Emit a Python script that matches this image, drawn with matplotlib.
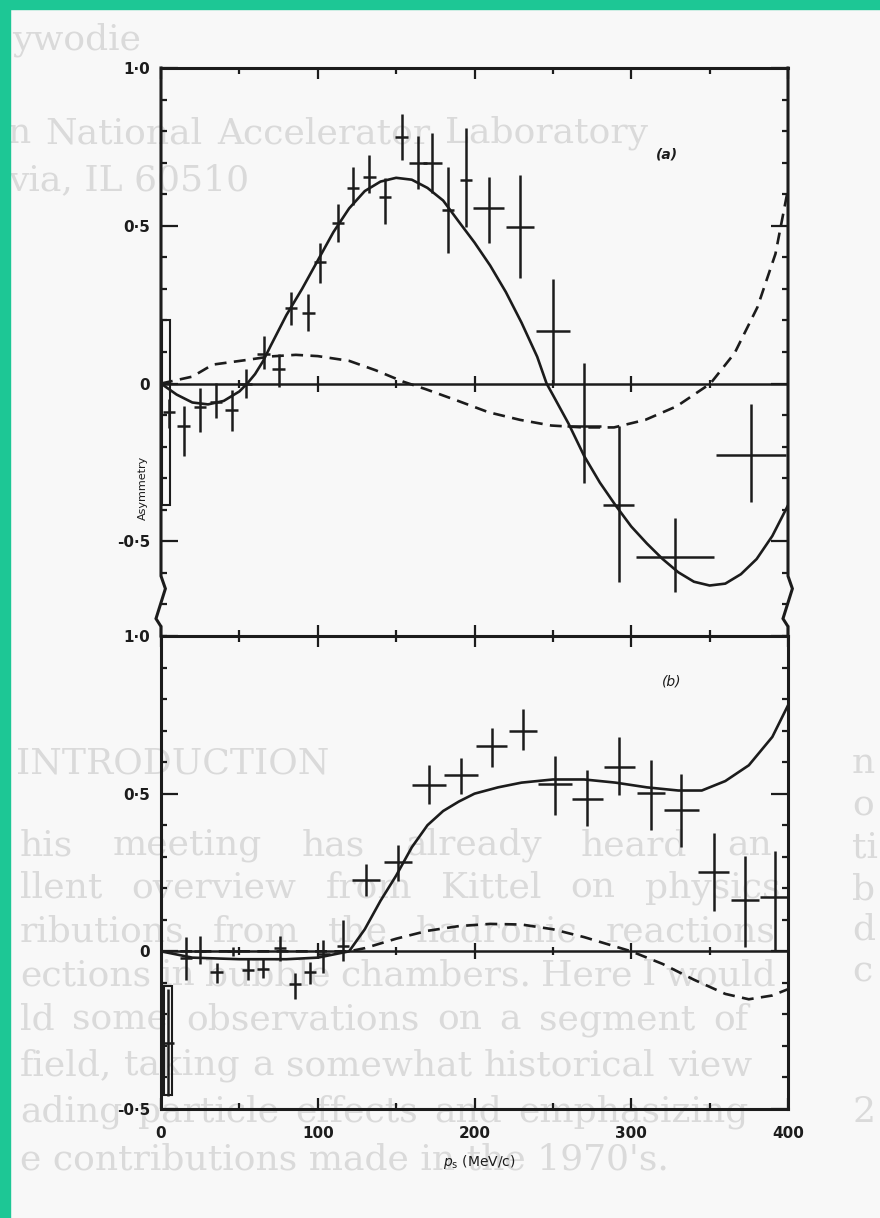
"""
Asymmetry vs p_s, two panels (a)/(b), redrawn from a scanned page.
"""
import numpy as np
import matplotlib
matplotlib.use("Agg")
import matplotlib.pyplot as plt
from matplotlib.patches import Rectangle

INK = "#1c1c1c"
PAPER = "#f8f8f8"
GHOST = "#dadada"
GREEN = "#1dc795"

# ---- panel (a) data: p_s, asymmetry, error up, error down, half width in p
a_p = [5, 14.5, 25, 35, 45, 54, 65.5, 75, 83, 94, 101.5, 113, 122.5, 133, 143,
       153.5, 164, 173, 183, 194.5, 209, 229, 250, 270, 292, 328, 376.5]
a_y = [-0.09, -0.135, -0.075, -0.058, -0.085, 0.0, 0.095, 0.045, 0.24, 0.225,
       0.385, 0.51, 0.62, 0.655, 0.59, 0.78, 0.70, 0.70, 0.55, 0.645, 0.555,
       0.495, 0.165, -0.135, -0.385, -0.55, -0.225]
a_up = [0.04, 0.065, 0.06, 0.06, 0.065, 0.045, 0.055, 0.05, 0.05, 0.06, 0.06,
        0.06, 0.065, 0.07, 0.06, 0.075, 0.085, 0.095, 0.135, 0.165, 0.10,
        0.165, 0.165, 0.20, 0.25, 0.125, 0.16]
a_dn = [0.05, 0.095, 0.08, 0.05, 0.065, 0.045, 0.05, 0.055, 0.055, 0.06, 0.065,
        0.06, 0.055, 0.05, 0.085, 0.07, 0.085, 0.095, 0.135, 0.15, 0.11,
        0.16, 0.165, 0.18, 0.245, 0.11, 0.15]
a_xw = [4, 4, 4, 4, 4, 4, 4, 4, 4, 4, 4, 4, 4, 4, 4, 4, 6, 6, 4, 4, 10, 9, 11,
        11, 10, 25, 22.5]

# panel (a) curves
a_fit_p = [0, 10, 20, 30, 40, 50, 55, 60, 65, 70, 80, 90, 100, 110, 120, 130,
           140, 150, 160, 170, 180, 190, 200, 210, 220, 230, 240, 246, 250,
           260, 270, 280, 290, 300, 310, 320, 330, 340, 350, 360, 370, 380,
           390, 400]
a_fit_y = [0.0, -0.035, -0.06, -0.066, -0.055, -0.025, 0.0, 0.03, 0.07, 0.12,
           0.217, 0.30, 0.39, 0.48, 0.555, 0.61, 0.64, 0.652, 0.646, 0.62,
           0.58, 0.513, 0.447, 0.374, 0.29, 0.193, 0.085, 0.0, -0.036, -0.127,
           -0.23, -0.314, -0.386, -0.453, -0.507, -0.556, -0.598, -0.628,
           -0.64, -0.634, -0.604, -0.556, -0.483, -0.386]
a_dash_p = [0, 20, 33, 55, 70, 86, 100, 120, 137, 154.5, 169, 189, 209, 229,
            249, 269, 289, 309, 329, 350.5, 366, 380.5, 392, 400]
a_dash_y = [0.0, 0.022, 0.06, 0.075, 0.086, 0.091, 0.087, 0.072, 0.042, 0.006,
            -0.018, -0.054, -0.091, -0.115, -0.133, -0.139, -0.139, -0.115,
            -0.072, 0.0, 0.097, 0.242, 0.411, 0.616]

# ---- panel (b) data
b_p = [4.5, 16, 25, 35.5, 46, 55.5, 65, 76, 85.5, 95, 103.5, 116, 131, 151,
       171, 191.5, 211, 231, 251.5, 272, 292.5, 312.5, 332, 352.5, 372.5, 392]
b_y = [-0.29, -0.02, 0.0, -0.066, 0.0, -0.06, -0.055, 0.01, -0.105, -0.065,
       -0.01, 0.018, 0.227, 0.284, 0.527, 0.558, 0.652, 0.70, 0.532, 0.484,
       0.586, 0.502, 0.448, 0.252, 0.163, 0.173]
b_up = [0.17, 0.065, 0.05, 0.03, 0.015, 0.035, 0.035, 0.04, 0.035, 0.03, 0.045,
        0.08, 0.05, 0.052, 0.063, 0.055, 0.057, 0.07, 0.087, 0.09, 0.095,
        0.105, 0.115, 0.123, 0.14, 0.146]
b_dn = [0.17, 0.07, 0.04, 0.035, 0.015, 0.03, 0.03, 0.04, 0.045, 0.04, 0.06,
        0.05, 0.05, 0.06, 0.06, 0.058, 0.068, 0.06, 0.10, 0.086, 0.09, 0.116,
        0.118, 0.125, 0.15, 0.173]
b_xw = [4, 4, 4, 4, 4, 4, 4, 4, 4, 4, 4, 4, 9, 9, 11, 11, 10, 9, 11, 10, 10, 9,
        11, 10, 9, 10]

b_fit_p = [0, 20, 50, 80, 100, 110, 120, 130, 140, 150, 160, 170, 180, 190,
           200, 215, 230, 250, 270, 290, 310, 330, 345, 360, 375, 390, 400]
b_fit_y = [0.0, -0.02, -0.025, -0.025, -0.02, -0.01, 0.0, 0.07, 0.16, 0.24,
           0.33, 0.40, 0.445, 0.475, 0.50, 0.52, 0.535, 0.545, 0.545, 0.535,
           0.52, 0.51, 0.51, 0.54, 0.59, 0.68, 0.78]
b_dash_p = [0, 120, 130, 150, 170, 190, 210, 230, 250, 270, 290, 300, 320, 340,
            360, 375, 390, 400]
b_dash_y = [0.0, 0.0, 0.01, 0.04, 0.065, 0.08, 0.087, 0.085, 0.07, 0.045,
            0.015, 0.0, -0.04, -0.09, -0.135, -0.152, -0.14, -0.12]

# open boxes at p_s ~ 0 (p from, p to, y from, y to)
a_box = (0.5, 5.5, -0.385, 0.20)
b_box = (2.0, 7.0, -0.455, -0.11)

x_major = [0, 100, 200, 300, 400]
x_minor = [50, 150, 250, 350]
x_labels = ["0", "100", "200", "300", "400"]
y_major = [-0.5, 0, 0.5, 1.0]
y_labels = ["-0·5", "0", "0·5", "1·0"]

# faint text showing through the scan: (x left px, x right px or None, y px, text)
ghost_lines = [
    (12, None, 40, "ywodie"),
    (8, 648, 133, "n National Accelerator Laboratory"),
    (8, None, 180, "via, IL 60510"),
    (16, None, 763, "INTRODUCTION"),
    (20, 772, 845, "his meeting has already heard an"),
    (20, 780, 888, "llent overview from Kittel on physics"),
    (20, 776, 932, "ributions from the hadronic reactions"),
    (20, 776, 975, "ections in bubble chambers. Here I would"),
    (20, 748, 1020, "ld some observations on a segment of"),
    (20, 752, 1065, "field, taking a somewhat historical view"),
    (20, 748, 1112, "ading particle effects and emphasizing"),
    (20, None, 1160, "e contributions made in the 1970's."),
    (852, None, 763, "n"), (852, None, 806, "o"), (852, None, 848, "ti"),
    (852, None, 890, "b"), (852, None, 930, "d"), (852, None, 972, "c"),
    (852, None, 1112, "2"),
]

W, H = 880, 1218
fig = plt.figure(figsize=(W / 100, H / 100), dpi=100, facecolor=PAPER)
renderer = fig.canvas.get_renderer()


def ghost_text(x0, x1, y, txt):
    """Faint serif line; stretched word by word when a right edge is given."""
    kw = dict(color=GHOST, fontsize=26, family="DejaVu Serif",
              va="center", ha="left", zorder=-5)
    words = txt.split()
    if x1 is None or len(words) < 2:
        fig.text(x0 / W, 1 - y / H, txt, **kw)
        return
    items = [fig.text(0, 1 - y / H, w, **kw) for w in words]
    widths = [t.get_window_extent(renderer).width for t in items]
    gap = max((x1 - x0 - sum(widths)) / (len(words) - 1), 6)
    x = x0
    for t, w in zip(items, widths):
        t.set_x(x / W)
        x += w + gap


for gx0, gx1, gy, txt in ghost_lines:
    ghost_text(gx0, gx1, gy, txt)

# green frame on the top and left edges
fig.patches.append(Rectangle((0, 1 - 9 / H), 1, 9 / H, transform=fig.transFigure,
                             color=GREEN, zorder=10))
fig.patches.append(Rectangle((0, 0), 10 / W, 1, transform=fig.transFigure,
                             color=GREEN, zorder=10))

left, width = 161 / W, 627 / W
ax1 = fig.add_axes([left, 1 - 636 / H, width, (636 - 68) / H])
ax2 = fig.add_axes([left, 1 - 1109 / H, width, (1109 - 636) / H])


def style_axis(ax, ylo):
    ax.set_facecolor("none")
    ax.set_xlim(0, 400)
    ax.set_ylim(ylo, 1.0)
    ax.set_xticks(x_major)
    ax.set_xticks(x_minor, minor=True)
    ax.set_yticks(y_major)
    ax.set_yticks(np.round(np.arange(ylo, 1.001, 0.1), 2), minor=True)
    ax.set_yticklabels(y_labels, fontsize=11, fontweight="bold", color=INK)
    ax.tick_params(which="both", direction="in", color=INK, width=1.6,
                   top=True, right=True)
    ax.tick_params(axis="x", which="major", length=8)
    ax.tick_params(axis="x", which="minor", length=4)
    ax.tick_params(axis="y", which="major", length=12, pad=8)
    ax.tick_params(axis="y", which="minor", length=4)
    for s in ax.spines.values():
        s.set_linewidth(2.2)
        s.set_color(INK)
    # zero line with its little crossing ticks
    ax.axhline(0, color=INK, lw=1.8, zorder=2)
    ax.plot(x_minor, [0] * len(x_minor), ls="none", marker="|", ms=6,
            mew=1.6, color=INK)
    ax.plot(x_major[1:-1], [0] * 3, ls="none", marker="|", ms=11,
            mew=1.6, color=INK)


def draw_panel(ax, p, y, up, dn, xw, fp, fy, dp, dy, box):
    ax.errorbar(p, y, yerr=[dn, up], xerr=xw, fmt="none", ecolor=INK,
                elinewidth=1.8, capsize=0, zorder=3)
    ax.plot(fp, fy, color=INK, lw=1.9, zorder=3)
    ax.plot(dp, dy, color=INK, lw=1.9, ls=(0, (4.5, 2.8)), zorder=3)
    x0, x1, y0, y1 = box
    ax.add_patch(Rectangle((x0, y0), x1 - x0, y1 - y0, fill=False,
                           ec=INK, lw=1.5, zorder=3))


# ---- panel (a)
style_axis(ax1, -0.8)
ax1.tick_params(axis="x", labelbottom=False)
ax1.spines["bottom"].set_visible(False)
ax1.spines["left"].set_visible(False)
ax1.spines["right"].set_visible(False)
tr = ax1.get_yaxis_transform()
brk_y = [1.0, -0.61, -0.65, -0.745, -0.77, -0.8]
ax1.plot([0, 0, 0.007, -0.008, 0, 0], brk_y, color=INK, lw=2.2,
         transform=tr, clip_on=False, solid_joinstyle="miter")
ax1.plot([1, 1, 1.007, 0.992, 1, 1], brk_y, color=INK, lw=2.2,
         transform=tr, clip_on=False, solid_joinstyle="miter")
draw_panel(ax1, a_p, a_y, a_up, a_dn, a_xw, a_fit_p, a_fit_y,
           a_dash_p, a_dash_y, a_box)
ax1.text(323, 0.725, "(a)", fontsize=10, style="italic", fontweight="bold",
         ha="center", va="center", color=INK)

# ---- panel (b)
style_axis(ax2, -0.5)
ax2.set_xticklabels(x_labels, fontsize=11, fontweight="bold", color=INK)
ax2.tick_params(axis="x", which="major", pad=12)
draw_panel(ax2, b_p, b_y, b_up, b_dn, b_xw, b_fit_p, b_fit_y,
           b_dash_p, b_dash_y, b_box)
ax2.text(326, 0.855, "(b)", fontsize=10, style="italic",
         ha="center", va="center", color=INK)

fig.text(143 / W, 1 - 488 / H, "Asymmetry", rotation=90, fontsize=8,
         ha="center", va="center", color=INK)
fig.text(479 / W, 1 - 1162 / H, r"$p_{\rm s}$ (MeV/c)", fontsize=10,
         ha="center", va="center", color=INK)

fig.savefig("out.png", dpi=100, facecolor=PAPER)
